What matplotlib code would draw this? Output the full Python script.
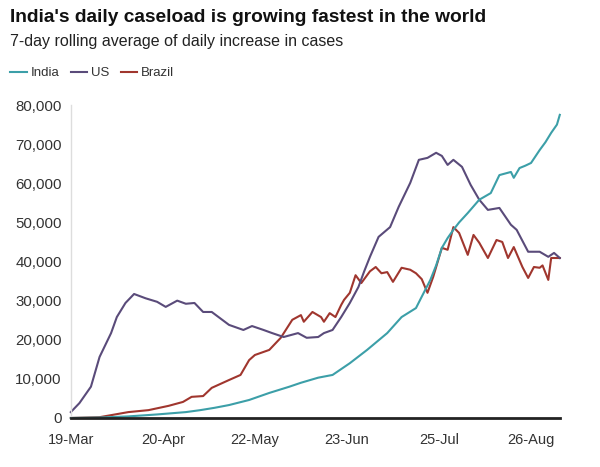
import matplotlib.pyplot as plt
import numpy as np

# days since 19-Mar and 7-day rolling average of new cases
india_days = [0, 10, 20, 30, 40, 45, 50, 55, 62, 69, 76, 80, 86, 91, 97, 103, 110, 115,
              120, 122, 125, 127, 129, 131, 133, 135, 138, 142, 146, 149, 151, 153, 154,
              156, 158, 160, 163, 165, 167, 169, 170]
india_vals = [0, 100, 400, 900, 1500, 2000, 2600, 3300, 4600, 6400, 8000, 9000, 10300, 11000,
              14000, 17400, 21700, 25800, 28100, 31000, 35300, 39000, 43500, 46000, 48100,
              50000, 52400, 55800, 57500, 62100, 62500, 62900, 61400, 63900, 64500, 65200,
              68500, 70500, 72900, 75000, 77500]

us_days = [0, 3, 7, 10, 14, 16, 19, 22, 26, 30, 33, 37, 40, 43, 46, 49, 55, 60, 63, 67, 70,
           74, 79, 82, 86, 88, 91, 94, 97, 100, 102, 104, 107, 111, 114, 118, 121, 124, 127,
           129, 131, 133, 136, 139, 142, 145, 149, 153, 155, 159, 163, 166, 168, 170]
us_vals = [1500, 3800, 8000, 15600, 21700, 25800, 29400, 31700, 30600, 29700, 28400, 30000,
           29200, 29400, 27100, 27100, 23800, 22500, 23500, 22500, 21700, 20700, 21700, 20500,
           20700, 21700, 22500, 25800, 29400, 33500, 37500, 41200, 46300, 48800, 54000, 60100,
           66000, 66500, 67800, 67000, 64700, 66000, 64200, 59600, 55800, 53200, 53700, 49400,
           48100, 42500, 42500, 41200, 42200, 40900]

brazil_days = [0, 10, 20, 27, 34, 39, 42, 46, 49, 55, 59, 62, 64, 69, 73, 77, 80, 81, 84,
               87, 88, 90, 92, 94, 95, 97, 99, 101, 104, 106, 108, 110, 112, 115, 118, 120,
               122, 124, 126, 129, 131, 133, 135, 138, 140, 142, 145, 148, 150, 152, 154,
               157, 159, 161, 163, 164, 166, 167, 170]
brazil_vals = [0, 200, 1500, 2000, 3100, 4100, 5400, 5600, 7700, 9700, 11000, 14800, 16100,
               17400, 20500, 25100, 26300, 24600, 27100, 25800, 24600, 26800, 25800, 28900,
               30200, 32000, 36500, 34500, 37500, 38600, 37000, 37300, 34800, 38400, 37900,
               37000, 35500, 32000, 36100, 43500, 43000, 48800, 47300, 41700, 46800, 44800,
               40900, 45500, 45000, 40900, 43700, 38600, 35800, 38600, 38400, 39000, 35300,
               40900, 40900]

tick_days = [0, 32, 64, 96, 128, 160]
tick_labels = ['19-Mar', '20-Apr', '22-May', '23-Jun', '25-Jul', '26-Aug']
y_ticks = np.arange(0, 80001, 10000)

plt.rcParams['font.family'] = ['Liberation Sans', 'DejaVu Sans']

fig = plt.figure(figsize=(6, 4.67), dpi=100)
ax = fig.add_axes([0.118, 0.105, 0.815, 0.67])

ax.plot(brazil_days, brazil_vals, color='#a0362e', lw=1.5, label='Brazil', clip_on=False)
ax.plot(us_days, us_vals, color='#5a4b7a', lw=1.5, label='US', clip_on=False)
ax.plot(india_days, india_vals, color='#3c9fa8', lw=1.5, label='India', clip_on=False)

ax.set_xlim(0, 170)
ax.set_ylim(0, 80000)
ax.set_xticks(tick_days)
ax.set_xticklabels(tick_labels, fontsize=10.5, color='#333333')
ax.set_yticks(y_ticks)
ax.set_yticklabels(['{:,}'.format(v) for v in y_ticks], fontsize=10.8, color='#333333')
ax.tick_params(axis='y', length=0, pad=6.5)
ax.tick_params(axis='x', length=0, pad=10.5)

for s in ['top', 'right']:
    ax.spines[s].set_visible(False)
ax.spines['left'].set_color('#dddddd')
ax.spines['left'].set_linewidth(1)
ax.spines['bottom'].set_color('#222222')
ax.spines['bottom'].set_linewidth(2)
ax.spines['bottom'].set_zorder(5)

fig.text(0.017, 0.962, "India's daily caseload is growing fastest in the world",
         fontsize=13.8, fontweight='bold', color='#111111', va='center')
fig.text(0.017, 0.912, '7-day rolling average of daily increase in cases',
         fontsize=11.5, color='#222222', va='center')

h, l = ax.get_legend_handles_labels()
fig.legend(h[::-1], l[::-1], loc='center left', bbox_to_anchor=(0.017, 0.843), ncol=3,
           frameon=False, fontsize=9.5, handlelength=1.25, handletextpad=0.3,
           columnspacing=0.85, borderpad=0, borderaxespad=0, labelcolor='#333333')

fig.savefig('out.png', dpi=100)
